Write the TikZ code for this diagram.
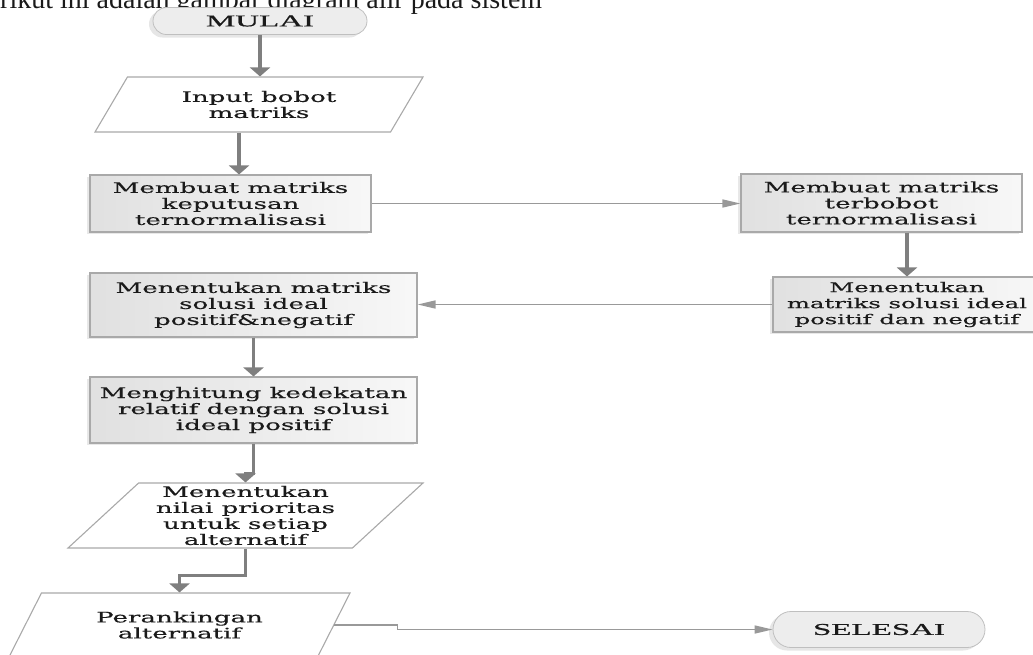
\documentclass[tikz,border=0pt]{standalone}
\usepackage{fontspec}
\setmainfont{Liberation Serif}
\newfontfamily\boxfont[FakeStretch=1.8,FakeBold=0.3]{DejaVu Serif}
\newfontfamily\endfont[FakeStretch=2.0,FakeBold=0.8]{Liberation Serif}
\usepackage{tikz}
\usetikzlibrary{arrows.meta,positioning,calc,shapes.geometric,shapes.misc,shadows}

\definecolor{edgegray}{HTML}{A9A9A9}
\definecolor{arrowgray}{HTML}{7F7F7F}
\definecolor{inkgray}{HTML}{1A1A1A}

\begin{document}
\begin{tikzpicture}[x=1pt,y=-1pt,
    every node/.style={text=inkgray,inner sep=0pt},
    proc/.style={draw=edgegray,line width=1.1pt,left color=black!12,right color=black!3,
      font=\boxfont\fontsize{14.5}{16}\selectfont,align=center,
      drop shadow={shadow xshift=-3pt,shadow yshift=-2pt,opacity=0.18}},
    io/.style={draw=edgegray,line width=1.1pt,fill=white,trapezium,
      trapezium left angle=40,trapezium right angle=140,trapezium stretches body,
      font=\boxfont\fontsize{14.5}{16}\selectfont,align=center},
    term/.style={rounded rectangle,draw=black!25,fill=black!7,line width=0.8pt,
      font=\endfont\fontsize{16.5}{18}\selectfont,
      drop shadow={shadow xshift=-4pt,shadow yshift=-3pt,opacity=0.2}},
    down/.style={draw=arrowgray,line width=3.4pt,-{Triangle[width=20pt,length=9pt]}},
    across/.style={draw=arrowgray!80,line width=1.5pt,-{Triangle[width=8pt,length=18pt]}}]
  \useasboundingbox (0,0) rectangle (1033,654);
  \clip (0,0) rectangle (1033,654);

  \node[anchor=base west,font=\fontsize{28}{34}\selectfont] (judul) at (0,8)
    {rikut ini adalah gambar diagram alir pada sistem};

  % kolom kiri
  \node[term,minimum width=214,minimum height=27] (mulai) at (260,21) {MULAI};
  \node[io,minimum width=328,minimum height=55] (input) at (259,104.5) {Input bobot\\matriks};
  \node[proc,minimum width=281,minimum height=57] (buatkep) at (230.5,203.5)
    {Membuat matriks\\keputusan\\ternormalisasi};
  \node[proc,minimum width=327,minimum height=64] (idealkiri) at (253.5,305)
    {Menentukan matriks\\solusi ideal\\positif\&negatif};
  \node[proc,minimum width=327,minimum height=66] (kedekatan) at (253.5,410)
    {Menghitung kedekatan\\relatif dengan solusi\\ideal positif};
  \node[io,minimum width=355,minimum height=65] (prioritas) at (245.5,515.5)
    {Menentukan\\nilai prioritas\\untuk setiap\\alternatif};
  \node[io,minimum width=341,minimum height=64] (ranking) at (179.5,625)
    {Perankingan\\alternatif};

  % kolom kanan
  \node[proc,minimum width=281,minimum height=58] (buatbobot) at (881.5,203)
    {Membuat matriks\\terbobot\\ternormalisasi};
  \node[proc,minimum width=268,minimum height=55,font=\boxfont\fontsize{13.5}{16}\selectfont]
    (idealkanan) at (907,304.5) {Menentukan\\matriks solusi ideal\\positif dan negatif};
  \node[term,minimum width=212,minimum height=36] (selesai) at (879,629.5) {SELESAI};

  \draw[down] (mulai.south) -- (mulai.south |- input.north);
  \draw[down] ([xshift=-20pt]input.south) -- ([xshift=-20pt]input.south |- buatkep.north);
  \draw[across] (buatkep.east) -- (buatkep.east -| buatbobot.west);
  \draw[down] (idealkanan.north |- buatbobot.south) -- (idealkanan.north);
  \draw[across] (idealkanan.west) -- (idealkanan.west -| idealkiri.east);
  \draw[down] (idealkiri.south) -- (kedekatan.north);
  \draw[down] (kedekatan.south) -- ++(0,30) -| (prioritas.north);
  \draw[down] (prioritas.south) -- ++(0,27) -| (ranking.north);
  \draw[across] (ranking.east) -- ++(63,0) |- (selesai.west);
\end{tikzpicture}
\end{document}
